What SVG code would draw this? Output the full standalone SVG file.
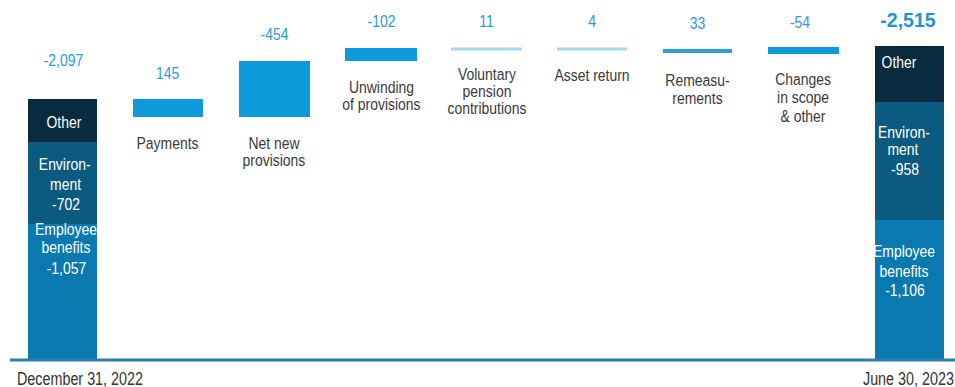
<svg xmlns="http://www.w3.org/2000/svg" width="955" height="387" viewBox="0 0 955 387">
<style>
text { font-family: "Liberation Sans", Arial, sans-serif; font-size: 17px; text-anchor: middle; }
.val { fill: #2b9ad6; }
.tot { fill: #1f93d2; font-weight: bold; font-size: 19.5px; }
.lbl { fill: #3a3a3a; }
.in { fill: #ffffff; }
.date { fill: #333333; font-size: 17.5px; }
.oth { fill: #082b3d; }
.env { fill: #0b5a80; }
.emp { fill: #0a79b0; }
.step { fill: #0d99da; }
.light { fill: #a6d8f1; }
.mid { fill: #2a9fdb; }
</style>
<rect width="955" height="387" fill="#ffffff"/>

<g id="start-dec-2022">
  <rect class="oth" x="28" y="99" width="69" height="43"/>
  <rect class="env" x="28" y="142" width="69" height="82"/>
  <rect class="emp" x="28" y="224" width="69" height="135"/>
  <g transform="scale(0.82 1)">
    <text class="val" x="77.4" y="66">-2,097</text>
    <text class="in" x="78" y="128">Other</text>
    <text class="in" x="79" y="170">Environ-</text>
    <text class="in" x="80" y="190">ment</text>
    <text class="in" x="80.5" y="210">-702</text>
    <text class="in" x="80.5" y="235">Employee</text>
    <text class="in" x="80.5" y="253">benefits</text>
    <text class="in" x="81" y="274">-1,057</text>
  </g>
</g>

<g id="payments">
  <rect class="step" x="133" y="99" width="70" height="18"/>
  <g transform="scale(0.82 1)">
    <text class="val" x="204.3" y="79">145</text>
    <text class="lbl" x="204.3" y="149">Payments</text>
  </g>
</g>

<g id="net-new-provisions">
  <rect class="step" x="239" y="61" width="71" height="56"/>
  <g transform="scale(0.82 1)">
    <text class="val" x="334.8" y="40">-454</text>
    <text class="lbl" x="334.1" y="149">Net new</text>
    <text class="lbl" x="334.1" y="166">provisions</text>
  </g>
</g>

<g id="unwinding">
  <rect class="step" x="345" y="48" width="72" height="13"/>
  <g transform="scale(0.82 1)">
    <text class="val" x="465.2" y="27">-102</text>
    <text class="lbl" x="465.2" y="93">Unwinding</text>
    <text class="lbl" x="465.2" y="110">of provisions</text>
  </g>
</g>

<g id="voluntary-pension">
  <rect class="light" x="451" y="47.5" width="71" height="3"/>
  <g transform="scale(0.82 1)">
    <text class="val" x="593.3" y="27">11</text>
    <text class="lbl" x="593.9" y="80">Voluntary</text>
    <text class="lbl" x="593.9" y="97">pension</text>
    <text class="lbl" x="593.9" y="114">contributions</text>
  </g>
</g>

<g id="asset-return">
  <rect class="light" x="557" y="47.5" width="70" height="3"/>
  <g transform="scale(0.82 1)">
    <text class="val" x="722" y="27">4</text>
    <text class="lbl" x="722" y="81">Asset return</text>
  </g>
</g>

<g id="remeasurements">
  <rect class="mid" x="663" y="49" width="69" height="4"/>
  <g transform="scale(0.82 1)">
    <text class="val" x="850.6" y="29">33</text>
    <text class="lbl" x="850.6" y="86">Remeasu-</text>
    <text class="lbl" x="850.6" y="104">rements</text>
  </g>
</g>

<g id="changes-in-scope">
  <rect class="step" x="768" y="47" width="71" height="7"/>
  <g transform="scale(0.82 1)">
    <text class="val" x="975.6" y="28">-54</text>
    <text class="lbl" x="979.3" y="85">Changes</text>
    <text class="lbl" x="979.3" y="103">in scope</text>
    <text class="lbl" x="979.3" y="122">&amp; other</text>
  </g>
</g>

<g id="end-jun-2023">
  <rect class="oth" x="875" y="46" width="69" height="56"/>
  <rect class="env" x="875" y="102" width="69" height="118"/>
  <rect class="emp" x="875" y="220" width="69" height="139"/>
  <text class="tot" x="908" y="27">-2,515</text>
  <g transform="scale(0.82 1)">
    <text class="in" x="1096.3" y="68">Other</text>
    <text class="in" x="1102.4" y="138">Environ-</text>
    <text class="in" x="1101.2" y="155">ment</text>
    <text class="in" x="1103.6" y="175">-958</text>
    <text class="in" x="1102.4" y="257">Employee</text>
    <text class="in" x="1102.4" y="277">benefits</text>
    <text class="in" x="1103.6" y="296">-1,106</text>
  </g>
</g>

<g id="connectors">
  <line x1="10" y1="360" x2="955" y2="360" stroke="#2a7ea8" stroke-width="3"/>
</g>

<g id="axis-labels" transform="scale(0.82 1)">
  <text class="date" x="20.7" y="385" style="text-anchor:start">December 31, 2022</text>
  <text class="date" x="1052.4" y="385" style="text-anchor:start">June 30, 2023</text>
</g>
</svg>
